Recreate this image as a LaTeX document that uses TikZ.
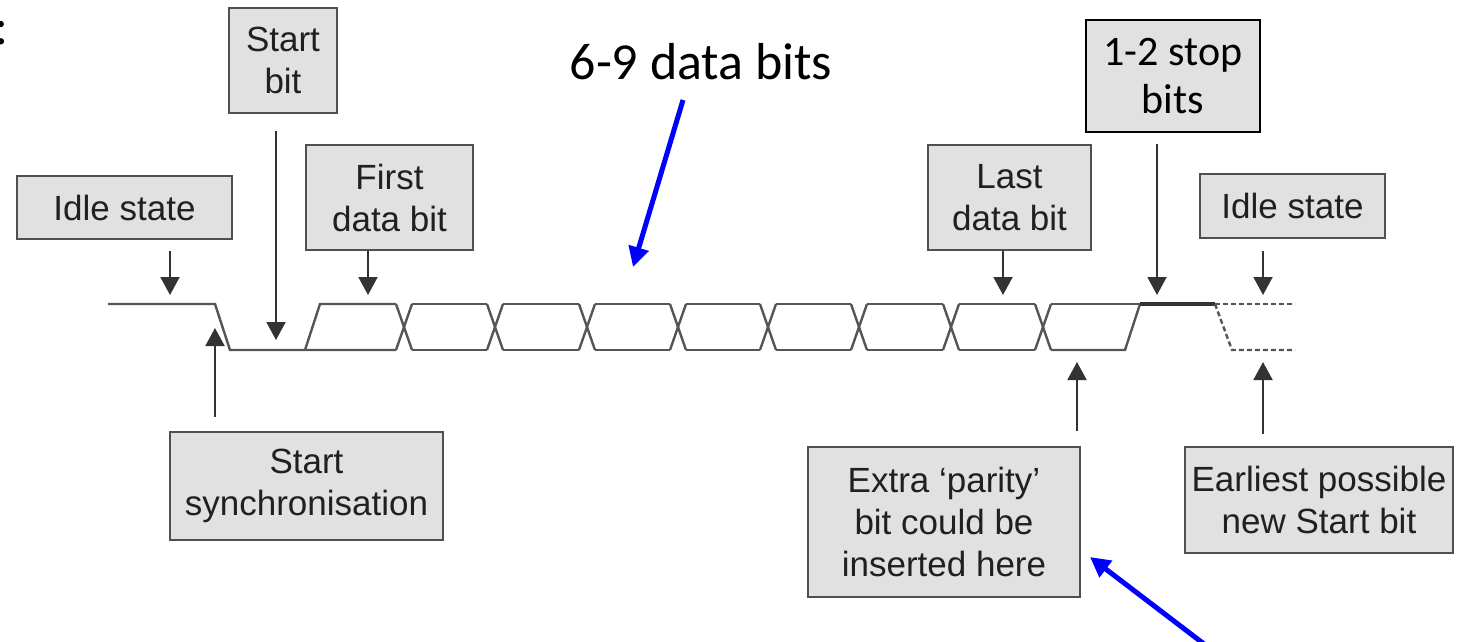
\documentclass[tikz,border=0pt]{standalone}
\usepackage{fontspec}
\setmainfont{Liberation Sans}
\newfontfamily\calfont{Carlito}
\usetikzlibrary{arrows.meta}

\definecolor{boxfill}{HTML}{E1E1E1}
\definecolor{boxline}{HTML}{505050}
\definecolor{wavecol}{HTML}{555555}
\definecolor{pointer}{HTML}{333333}
\definecolor{textcol}{HTML}{202020}

\tikzset{
  gbox/.style={draw=boxline, fill=boxfill, line width=2.4pt, inner sep=0pt,
    align=center, text=textcol, font=\fontsize{35}{42}\selectfont},
  sbox/.style={draw=black, fill=boxfill, line width=2.4pt, inner sep=0pt,
    align=center, text=black, font=\calfont\fontsize{42}{48}\selectfont},
  wave/.style={draw=wavecol, line width=2.4pt},
  stopwave/.style={draw=black!80, line width=3.2pt},
  dotwave/.style={draw=wavecol, line width=2.4pt, dash pattern=on 5pt off 3pt},
  ptr/.style={draw=pointer, line width=2pt,
    -{Triangle[width=19pt,length=18pt]}},
  blueptr/.style={draw=blue, line width=5pt,
    -{Triangle[width=20pt,length=20pt]}}
}

\begin{document}
\begin{tikzpicture}[x=1pt,y=-1pt]
\useasboundingbox (0,0) rectangle (1465,641);

% clipped colon at the left edge
\node[anchor=base east, inner sep=0pt, font=\calfont\fontsize{52}{60}\selectfont] (colon) at (8.5,44) {:};

% label boxes
\node[gbox, minimum width=108pt, minimum height=105pt] (startbit) at (283,60.5) {Start\\bit};
\node[gbox, minimum width=215pt, minimum height=63pt] (idleL) at (124.5,207.5) {Idle state};
\node[gbox, minimum width=167pt, minimum height=105pt] (first) at (389.5,197.5) {First\\data bit};
\node[gbox, minimum width=163pt, minimum height=105pt] (last) at (1009.5,197.5) {Last\\data bit};
\node[sbox, minimum width=174pt, minimum height=112pt] (stop) at (1173,76) {1-2 stop\\bits};
\node[gbox, minimum width=185pt, minimum height=64pt] (idleR) at (1292.5,206) {Idle state};
\node[gbox, minimum width=273pt, minimum height=108pt] (sync) at (306.5,486) {Start\\synchronisation};
\node[gbox, minimum width=272pt, minimum height=150pt] (parity) at (944,522) {Extra `parity'\\bit could be\\inserted here};
\node[gbox, minimum width=268pt, minimum height=106pt] (earliest) at (1319,500) {Earliest possible\\new Start bit};
\node[inner sep=0pt, font=\calfont\fontsize{52}{60}\selectfont] (databits) at (701,62) {6-9 data bits};

% waveform: idle, start bit, rising edge into the first data bit
\draw[wave] (108,304) -- (215,304) -- (230,350) -- (396,350);
\draw[wave] (305,350) -- (320,304) -- (396,304);

% data bit cells
\foreach \a/\b in {412/487,503/579,595/670,686/760,776/851,867/943,959/1035,1051/1140}
  \draw[wave] (\a,304) -- (\b,304);
\foreach \a/\b in {412/487,503/579,595/670,686/760,776/851,867/943,959/1035}
  \draw[wave] (\a,350) -- (\b,350);
\foreach \c in {404,495,587,678,768,859,951,1043}{
  \draw[wave] (\c-8,304) -- (\c+8,350);
  \draw[wave] (\c-8,350) -- (\c+8,304);
}
% last cell closes with the rising edge into the stop bit
\draw[wave] (1051,350) -- (1125,350) -- (1140,304);

% stop bit and possible next frame
\draw[stopwave] (1140,304) -- (1215,304);
\draw[dotwave] (1215,304) -- (1295,304);
\draw[dotwave] (1215,304) -- (1232,350) -- (1295,350);

% pointer end points on the waveform
\coordinate (pIdleL) at (170,295);
\coordinate (pStart) at (276,340);
\coordinate (pFirst) at (368,295);
\coordinate (pLast) at (1003,295);
\coordinate (pStop) at (1157,295);
\coordinate (pIdleR) at (1263,295);
\coordinate (pSync) at (215,328);
\coordinate (pParity) at (1077,362);
\coordinate (pEarly) at (1263,362);

% pointers from the labels
\draw[ptr] ([yshift=-11pt]idleL.south -| pIdleL) -- (pIdleL);
\draw[ptr] ([yshift=-17pt]startbit.south -| pStart) -- (pStart);
\draw[ptr] (first.south -| pFirst) -- (pFirst);
\draw[ptr] (last.south -| pLast) -- (pLast);
\draw[ptr] ([yshift=-11pt]stop.south -| pStop) -- (pStop);
\draw[ptr] ([yshift=-12pt]idleR.south -| pIdleR) -- (pIdleR);
\draw[ptr] ([yshift=14pt]sync.north -| pSync) -- (pSync);
\draw[ptr] ([yshift=15pt]parity.north -| pParity) -- (pParity);
\draw[ptr] ([yshift=12pt]earliest.north -| pEarly) -- (pEarly);

% blue annotation arrows
\coordinate (bTail) at (683,100);
\coordinate (bTip) at (633,267);
\draw[blueptr] (bTail) -- (bTip);
\coordinate (cTail) at (1208,647);
\coordinate (cTip) at (1090,557);
\draw[blueptr] (cTail) -- (cTip);
\end{tikzpicture}
\end{document}
